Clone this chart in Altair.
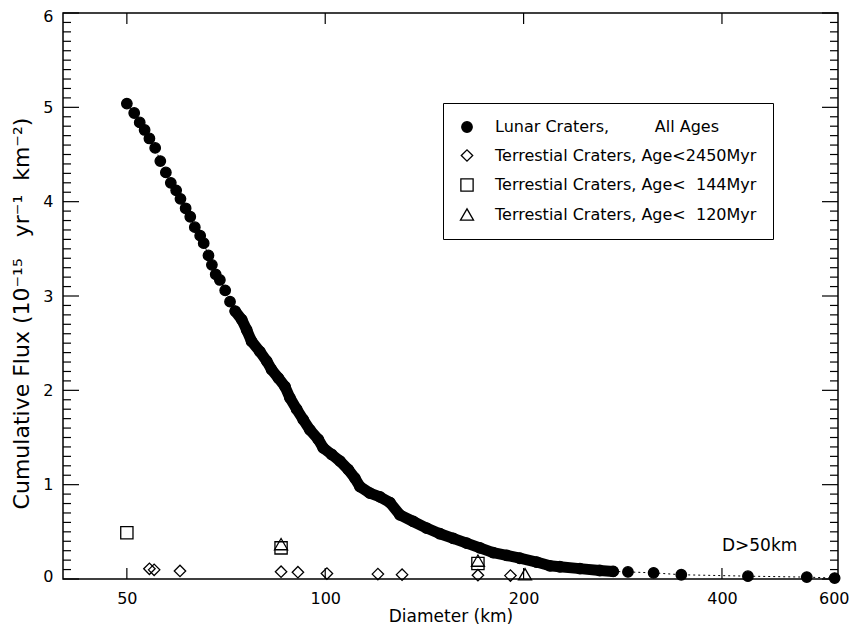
import altair as alt
import pandas as pd

# ---------------- data ----------------
lunar_D = [50.0, 51.3, 52.3, 53.2, 54.1, 55.2, 56.2, 57.3, 58.3, 59.4, 60.3, 61.4, 62.4, 63.4,
           64.6, 65.4, 66.5, 67.3, 68.2, 69.2, 70.5, 71.7, 73.0, 74.7, 76.0, 77.3, 79.6, 81.5,
           82.9, 84.9, 86.9, 88.4, 90.5, 92.6, 94.8, 97.6, 99.3, 102.3, 105.3, 108.4, 110.9,
           112.9, 116.9, 121.1, 125.4, 129.8, 136.0, 142.5, 149.3, 156.4, 163.9, 171.7, 179.8,
           188.5, 197.4, 209.3, 219.3, 227.0, 243.5, 261.0, 273.5, 288.0, 315.0, 347.0, 438.0,
           538.0, 593.0]
lunar_flux = [5.04, 4.94, 4.84, 4.76, 4.67, 4.57, 4.43, 4.31, 4.20, 4.12, 4.03, 3.93, 3.84, 3.73,
              3.64, 3.56, 3.43, 3.33, 3.23, 3.17, 3.06, 2.94, 2.84, 2.75, 2.64, 2.52, 2.41, 2.31,
              2.22, 2.13, 2.04, 1.92, 1.80, 1.69, 1.58, 1.48, 1.39, 1.32, 1.25, 1.16, 1.07,
              0.98, 0.91, 0.87, 0.81, 0.68, 0.61, 0.54, 0.48, 0.43, 0.38, 0.33, 0.28,
              0.25, 0.22, 0.18, 0.14, 0.13, 0.11, 0.09, 0.08, 0.075, 0.065, 0.045, 0.03,
              0.02, 0.01]

t2450_D = [54.1, 55.0, 60.2, 85.7, 90.9, 100.6, 120.2, 130.8, 170.5, 191.0]
t2450_flux = [0.108, 0.097, 0.085, 0.077, 0.072, 0.058, 0.052, 0.046, 0.040, 0.036]

t144_D = [50.0, 85.7, 170.5]
t144_flux = [0.49, 0.33, 0.165]

t120_D = [85.7, 170.5, 201.0]
t120_flux = [0.37, 0.195, 0.05]

series_names = [
    "Lunar Craters," + "\u00a0" * 9 + "All Ages",
    "Terrestial Craters, Age<2450Myr",
    "Terrestial Craters, Age<\u2007144Myr",
    "Terrestial Craters, Age<\u2007120Myr",
]

note_D = [400]
note_flux = [0.355]
note_text = ["D>50km"]

y_major = [0, 1, 2, 3, 4, 5, 6]
y_minor = [round(i / 10, 1) for i in range(61) if i % 10 != 0]
x_major = [50, 100, 200, 400]
x_labels = [50, 100, 200, 400, 600]

# ---------------- tables ----------------
frames = []
for name, ds, fs in zip(series_names,
                        [lunar_D, t2450_D, t144_D, t120_D],
                        [lunar_flux, t2450_flux, t144_flux, t120_flux]):
    frames.append(pd.DataFrame({"D": ds, "flux": fs, "series": name}))
df = pd.concat(frames, ignore_index=True)
lunar_df = pd.DataFrame({"D": lunar_D, "flux": lunar_flux})
note_df = pd.DataFrame({"D": note_D, "flux": note_flux, "text": note_text})
ymaj_df = pd.DataFrame({"flux": y_major})
ymin_df = pd.DataFrame({"flux": y_minor})
xmaj_df = pd.DataFrame({"D": x_major})

W, H = 775, 566
FONT = "DejaVu Sans"
XT = "Diameter (km)"
NB = "\u00a0"
YT = ("Cumulative Flux (10\u207b\u00b9\u2075" + NB * 3 + "yr\u207b\u00b9" + NB * 2
      + "km\u207b\u00b2)")

xscale = alt.Scale(type="log", domain=[40, 600], nice=False)
yscale = alt.Scale(domain=[0, 6], nice=False, zero=False)

xaxis = alt.Axis(values=x_labels, ticks=False, domain=False, grid=False, format="d",
                 labelFont=FONT, labelFontSize=16, labelColor="black", labelPadding=11,
                 labelFlush=True, labelFlushOffset=11, labelOverlap=False,
                 titleFont=FONT, titleFontSize=17, titleFontWeight="normal",
                 titleColor="black", titlePadding=2)
yaxis = alt.Axis(values=y_major, ticks=False, domain=False, grid=False, format="d",
                 labelFont=FONT, labelFontSize=16, labelColor="black", labelPadding=10,
                 labelFlush=True, labelFlushOffset=5, labelOverlap=False,
                 titleFont=FONT, titleFontSize=22, titleFontWeight="normal",
                 titleColor="black", titlePadding=9, titleY=300)

X = lambda: alt.X("D:Q", scale=xscale, axis=xaxis, title=XT)
Y = lambda: alt.Y("flux:Q", scale=yscale, axis=yaxis, title=YT)

legend = alt.Legend(orient="none", legendX=380, legendY=90, title=None,
                    strokeColor="black", fillColor="white", padding=16,
                    labelFont=FONT, labelFontSize=16, labelColor="black", labelLimit=500,
                    labelOffset=20, rowPadding=11.5,
                    symbolStrokeColor="black", symbolStrokeWidth=1.3)

sdom = series_names
points = alt.Chart(df).mark_point(filled=True, opacity=1, strokeWidth=1.3).encode(
    x=X(), y=Y(),
    shape=alt.Shape("series:N", legend=legend,
                    scale=alt.Scale(domain=sdom,
                                    range=["circle", "diamond", "square", "triangle-up"])),
    fill=alt.Fill("series:N", legend=legend,
                  scale=alt.Scale(domain=sdom,
                                  range=["black", "transparent", "transparent", "transparent"])),
    stroke=alt.Stroke("series:N", legend=legend,
                      scale=alt.Scale(domain=sdom,
                                      range=["black", "black", "black", "black"])),
    size=alt.Size("series:N", legend=legend,
                  scale=alt.Scale(domain=sdom, range=[110, 170, 110, 130])),
)

dotted = alt.Chart(lunar_df).mark_line(color="black", strokeWidth=1, strokeDash=[2, 3]).encode(
    x=X(), y=Y())

band = alt.Chart(lunar_df).transform_filter(
    (alt.datum.D >= 73) & (alt.datum.D <= 275)
).mark_line(color="black", strokeWidth=11, strokeCap="round", strokeJoin="round").encode(
    x=X(), y=Y())

note = alt.Chart(note_df).mark_text(align="left", baseline="middle", font=FONT,
                                     fontSize=17, color="black").encode(
    x=X(), y=Y(), text="text:N")

def yticks(data, x0, x1):
    return alt.Chart(data).mark_rule(color="black", strokeWidth=1.2).encode(
        y=Y(), x=alt.value(x0), x2=alt.value(x1))

def xticks(data, y0, y1):
    return alt.Chart(data).mark_rule(color="black", strokeWidth=1.2).encode(
        x=X(), y=alt.value(y0), y2=alt.value(y1))

tick_layers = [
    yticks(ymaj_df, 0, 16), yticks(ymin_df, 0, 8),
    yticks(ymaj_df, W - 16, W), yticks(ymin_df, W - 8, W),
    xticks(xmaj_df, 0, 11), xticks(xmaj_df, H - 11, H),
]

chart = alt.layer(*tick_layers, dotted, band, points, note).properties(
    width=W, height=H,
    autosize=alt.AutoSizeParams(type="none"),
    padding={"left": 55, "top": 5, "right": 12, "bottom": 47},
).configure_view(stroke="black", strokeWidth=1.5)

chart.save("out.html", embed_options={"renderer": "svg", "actions": False})
